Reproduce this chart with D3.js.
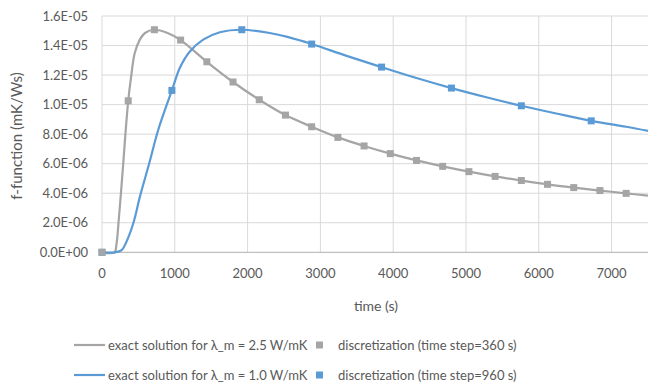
<!DOCTYPE html>
<html>
<head>
<meta charset="utf-8">
<script src="https://cdn.jsdelivr.net/npm/d3@7"></script>
<style>
  body { margin: 0; background: #fff; }
  svg text { font-family: Lato, "Open Sans", sans-serif; fill: #595959; }
</style>
</head>
<body>
<div id="chart"></div>
<script>
// exact solution, lambda_m = 2.5 W/mK
var grayT = [0, 170, 200, 230, 260, 290, 320, 360, 400, 450, 520, 590, 720, 900, 1080, 1440, 1800, 2160, 2520, 2880, 3240, 3600, 3960, 4320, 4680, 5040, 5400, 5760, 6120, 6480, 6840, 7200, 7500];
var grayV = [0, 0, 0.6e-6, 2.2e-6, 4.0e-6, 5.9e-6, 7.9e-6, 1.026e-5, 1.19e-5, 1.35e-5, 1.44e-5, 1.485e-5, 1.507e-5, 1.485e-5, 1.437e-5, 1.29e-5, 1.153e-5, 1.033e-5, 9.29e-6, 8.5e-6, 7.78e-6, 7.2e-6, 6.68e-6, 6.22e-6, 5.82e-6, 5.46e-6, 5.14e-6, 4.86e-6, 4.6e-6, 4.38e-6, 4.18e-6, 3.99e-6, 3.84e-6];

// exact solution, lambda_m = 1.0 W/mK
var blueT = [0, 180, 270, 325, 430, 521, 649, 773, 960, 1070, 1207, 1390, 1619, 1920, 2305, 2533, 2880, 3360, 3840, 4320, 4800, 5280, 5760, 6240, 6720, 7200, 7500];
var blueV = [0, 0, 0.15e-6, 0.6e-6, 1.97e-6, 3.77e-6, 6.03e-6, 8.3e-6, 1.096e-5, 1.25e-5, 1.36e-5, 1.44e-5, 1.49e-5, 1.507e-5, 1.485e-5, 1.46e-5, 1.41e-5, 1.33e-5, 1.254e-5, 1.18e-5, 1.112e-5, 1.05e-5, 9.92e-6, 9.4e-6, 8.9e-6, 8.5e-6, 8.22e-6];

// discretization, time step = 360 s
var disc360T = [0, 360, 720, 1080, 1440, 1800, 2160, 2520, 2880, 3240, 3600, 3960, 4320, 4680, 5040, 5400, 5760, 6120, 6480, 6840, 7200];
var disc360V = [0, 1.026e-5, 1.507e-5, 1.437e-5, 1.29e-5, 1.153e-5, 1.033e-5, 9.29e-6, 8.5e-6, 7.78e-6, 7.2e-6, 6.68e-6, 6.22e-6, 5.82e-6, 5.46e-6, 5.14e-6, 4.86e-6, 4.6e-6, 4.38e-6, 4.18e-6, 3.99e-6];

// discretization, time step = 960 s
var disc960T = [0, 960, 1920, 2880, 3840, 4800, 5760, 6720];
var disc960V = [0, 1.096e-5, 1.507e-5, 1.41e-5, 1.254e-5, 1.112e-5, 9.92e-6, 8.9e-6];

var xTicks = [0, 1000, 2000, 3000, 4000, 5000, 6000, 7000];
var yTicks = [0, 2e-6, 4e-6, 6e-6, 8e-6, 1e-5, 1.2e-5, 1.4e-5, 1.6e-5];

var gray = "#a5a5a5", blue = "#5b9bd5";
var width = 660, height = 386;

var svg = d3.select("#chart").append("svg")
    .attr("width", width)
    .attr("height", height);

var x = d3.scaleLinear().domain([0, 7500]).range([102, 648]);
var y = d3.scaleLinear().domain([0, 1.6e-5]).range([252.3, 16]);

// grid
svg.append("g").selectAll("line.h")
    .data(yTicks.slice(1))
    .enter().append("line")
    .attr("x1", x(0)).attr("x2", x(7500))
    .attr("y1", function (d) { return y(d); })
    .attr("y2", function (d) { return y(d); })
    .attr("stroke", "#d9d9d9").attr("stroke-width", 1);

svg.append("g").selectAll("line.v")
    .data(xTicks)
    .enter().append("line")
    .attr("x1", function (d) { return x(d); })
    .attr("x2", function (d) { return x(d); })
    .attr("y1", y(1.6e-5)).attr("y2", y(0))
    .attr("stroke", "#d9d9d9").attr("stroke-width", 1);

// x axis line
svg.append("line")
    .attr("x1", x(0)).attr("x2", x(7500))
    .attr("y1", y(0)).attr("y2", y(0))
    .attr("stroke", "#bfbfbf").attr("stroke-width", 1.2);

// tick labels
svg.append("g").selectAll("text")
    .data(yTicks)
    .enter().append("text")
    .attr("x", 88)
    .attr("y", function (d) { return y(d); })
    .attr("dy", "0.35em")
    .attr("text-anchor", "end")
    .style("font-size", "13px")
    .text(function (d) {
        var s = d.toExponential(1).toUpperCase();
        return s.replace(/E([+-])(\d)$/, "E$10$2");
    });

svg.append("g").selectAll("text")
    .data(xTicks)
    .enter().append("text")
    .attr("x", function (d) { return x(d); })
    .attr("y", 273.5)
    .attr("dy", "0.35em")
    .attr("text-anchor", "middle")
    .style("font-size", "13px")
    .text(function (d) { return d; });

// axis titles
svg.append("text")
    .attr("x", 376).attr("y", 306)
    .attr("dy", "0.35em")
    .attr("text-anchor", "middle")
    .style("font-size", "14px")
    .text("time (s)");

svg.append("text")
    .attr("transform", "translate(17,136) rotate(-90)")
    .attr("dy", "0.35em")
    .attr("text-anchor", "middle")
    .style("font-size", "15px")
    .text("f-function (mK/Ws)");

// curves
var line = d3.line()
    .x(function (d) { return x(d[0]); })
    .y(function (d) { return y(d[1]); })
    .curve(d3.curveCatmullRom.alpha(0.5));

function pairs(t, v) { return t.map(function (d, i) { return [d, v[i]]; }); }

svg.append("path")
    .datum(pairs(grayT, grayV))
    .attr("d", line)
    .attr("fill", "none").attr("stroke", gray).attr("stroke-width", 2.2);

svg.append("path")
    .datum(pairs(blueT, blueV))
    .attr("d", line)
    .attr("fill", "none").attr("stroke", blue).attr("stroke-width", 2.2);

// markers
var ms = 7;
svg.append("g").selectAll("rect")
    .data(pairs(disc960T, disc960V))
    .enter().append("rect")
    .attr("x", function (d) { return x(d[0]) - ms / 2; })
    .attr("y", function (d) { return y(d[1]) - ms / 2; })
    .attr("width", ms).attr("height", ms)
    .attr("fill", blue);

svg.append("g").selectAll("rect")
    .data(pairs(disc360T, disc360V))
    .enter().append("rect")
    .attr("x", function (d) { return x(d[0]) - ms / 2; })
    .attr("y", function (d) { return y(d[1]) - ms / 2; })
    .attr("width", ms).attr("height", ms)
    .attr("fill", gray);

// legend
var legend = [
    {color: gray, line: "exact solution for \u03bb_m = 2.5 W/mK", disc: "discretization (time step=360 s)", y: 345},
    {color: blue, line: "exact solution for \u03bb_m = 1.0 W/mK", disc: "discretization (time step=960 s)", y: 375}
];

var lg = svg.append("g").selectAll("g")
    .data(legend)
    .enter().append("g")
    .attr("transform", function (d) { return "translate(0," + d.y + ")"; });

lg.append("line")
    .attr("x1", 74).attr("x2", 105)
    .attr("stroke", function (d) { return d.color; })
    .attr("stroke-width", 2.2);

lg.append("text")
    .attr("x", 108).attr("dy", "0.35em")
    .style("font-size", "13px")
    .text(function (d) { return d.line; });

lg.append("rect")
    .attr("x", 316).attr("y", -3.5)
    .attr("width", 7).attr("height", 7)
    .attr("fill", function (d) { return d.color; });

lg.append("text")
    .attr("x", 338).attr("dy", "0.35em")
    .style("font-size", "13px")
    .text(function (d) { return d.disc; });
</script>
</body>
</html>
